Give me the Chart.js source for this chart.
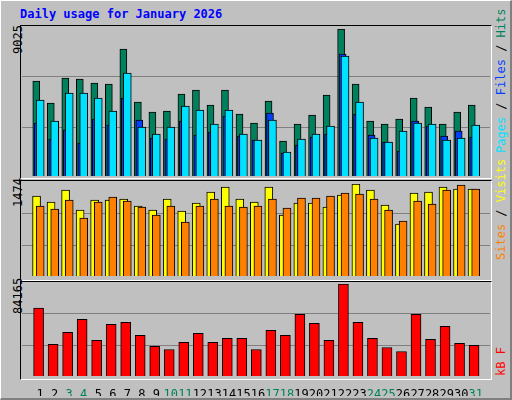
<!DOCTYPE html>
<html><head><meta charset="utf-8">
<script src="https://cdn.jsdelivr.net/npm/chart.js@4"></script>
<style>
body{margin:0;background:#fff}
#frame{position:absolute;left:0;top:0;width:509px;height:397px;background:#c0c0c0;border-left:1px solid #fff;border-top:1px solid #fff;border-right:2px solid #808080;border-bottom:2px solid #808080;font-family:"DejaVu Sans Mono",monospace;font-size:12px}
.panel{position:absolute;left:19px;width:470px;border:1px solid #000;border-right-color:#fff;border-bottom-color:#fff}
canvas{position:absolute}
.side{position:absolute;transform:rotate(-90deg);transform-origin:left top;white-space:nowrap}
#title{position:absolute;left:19px;top:6px;color:#0000ff;font-weight:bold}
</style></head><body>
<div id="frame">
<div id="title">Daily usage for January 2026</div>
<div class="panel" style="top:24px;height:152px"></div>
<div class="panel" style="top:179px;height:99px"></div>
<div class="panel" style="top:280px;height:97px"></div>
<div class="side" style="left:10px;top:53px">9025</div>
<div class="side" style="left:10px;top:206px">1474</div>
<div class="side" style="left:10px;top:313px">84165</div>
<div class="side" style="left:493px;top:152px"><span style="color:#00e0ff">Pages</span> / <span style="color:#0040ff">Files</span> / <span style="color:#00805c">Hits</span></div>
<div class="side" style="left:493px;top:259px"><span style="color:#ff8000">Sites</span> / <span style="color:#ffff00">Visits</span></div>
<div class="side" style="left:493px;top:375px;color:#ff0000">kB F</div>
</div>
<canvas id="top" style="left:22px;top:29px;width:468px;height:147px"></canvas>
<canvas id="mid" style="left:22px;top:184px;width:468px;height:92px"></canvas>
<canvas id="bot" style="left:22px;top:284px;width:468px;height:112px"></canvas>
<script>
const days = Array.from({length: 31}, (_, i) => i + 1);
const weekends = [3, 4, 10, 11, 17, 18, 24, 25, 31];

const hits = [5831, 4481, 6015, 5954, 5708, 5647, 7795, 4542, 3928, 3990, 5033, 5279, 4358, 5279, 3806, 3253,
  4604, 2148, 3192, 3744, 4972, 9025, 5647, 3376, 3192, 3499, 4788, 4235, 3192, 3928, 4358];
const files = [3253, 2271, 2823, 2026, 3499, 3130, 4788, 3437, 2332, 2271, 3376, 2517, 2701, 3683, 2455, 2210,
  3867, 1412, 1903, 2394, 2578, 7488, 3806, 2517, 2087, 1535, 3376, 3069, 2455, 2762, 2394];
const pages = [4665, 3376, 5095, 5095, 4788, 3990, 6322, 3008, 2578, 3008, 4297, 4051, 3192, 4051, 2578, 2210,
  3437, 1473, 2271, 2578, 3069, 7366, 4542, 2332, 2087, 2762, 3253, 3192, 2210, 2332, 3130];
const visits = [1282, 1185, 1378, 1057, 1218, 1218, 1234, 1121, 1057, 1234, 1041, 1170, 1346, 1426, 1234, 1185,
  1426, 977, 1170, 1170, 1105, 1298, 1474, 1378, 1137, 833, 1330, 1346, 1426, 1394, 1394];
const sites = [1121, 1073, 1218, 929, 1185, 1266, 1202, 1105, 977, 1121, 865, 1121, 1234, 1121, 1105, 1121,
  1234, 1089, 1250, 1250, 1282, 1330, 1314, 1234, 1057, 881, 1202, 1153, 1378, 1458, 1394];
const kbytes = [62054, 28877, 39936, 51917, 32563, 47309, 49152, 37171, 27034, 24269, 30720, 39014, 30720, 34406,
  34406, 24269, 41779, 37171, 56525, 48230, 32563, 84165, 49152, 34406, 26112, 22426, 56525, 33485, 45466, 29798, 27955];

const xMin = 0.267, xMax = 31.467;

function series(vals, off, color, width, order) {
  return {
    data: vals.map((v, i) => ({x: days[i] + off, y: v})),
    backgroundColor: color, borderColor: '#000', borderWidth: 1,
    borderSkipped: 'bottom', barThickness: width, grouped: false, order: order
  };
}

function makeChart(id, datasets, max, showDays) {
  return new Chart(document.getElementById(id), {
    type: 'bar',
    data: {datasets},
    options: {
      responsive: false, animation: false, devicePixelRatio: 1,
      layout: {padding: 0},
      plugins: {legend: {display: false}, tooltip: {enabled: false}},
      scales: {
        x: {
          type: 'linear', min: xMin, max: xMax, display: showDays,
          grid: {display: false}, border: {display: false},
          afterBuildTicks: s => { s.ticks = days.map(d => ({value: d})); },
          afterFit: s => { s.height = showDays ? 20 : 0; },
          ticks: {
            padding: 4, autoSkip: false, maxRotation: 0,
            font: {family: 'DejaVu Sans Mono', size: 12},
            color: c => weekends.includes(c.tick.value) ? '#00805c' : '#000'
          }
        },
        y: {
          min: 0, max: max,
          afterBuildTicks: s => { s.ticks = [max * 0.33, max * 0.68].map(v => ({value: v})); },
          afterFit: s => { s.width = 0; },
          ticks: {display: false},
          grid: {color: '#808080', drawTicks: false},
          border: {display: false}
        }
      }
    }
  });
}

function size(id) {
  const c = document.getElementById(id);
  c.width = parseInt(c.style.width); c.height = parseInt(c.style.height);
}
['top', 'mid', 'bot'].forEach(size);

makeChart('top', [
  series(hits, -0.27, '#00805c', 7, 3),
  series(files, -0.17, '#0040ff', 7, 2),
  series(pages, 0, '#00e0ff', 8, 1)
], 9025, false);

makeChart('mid', [
  series(visits, -0.25, '#ffff00', 8, 2),
  series(sites, 0, '#ff8000', 8, 1)
], 1474, false);

makeChart('bot', [series(kbytes, -0.11, '#ff0000', 10, 1)], 84165, true);
</script>
</body></html>
